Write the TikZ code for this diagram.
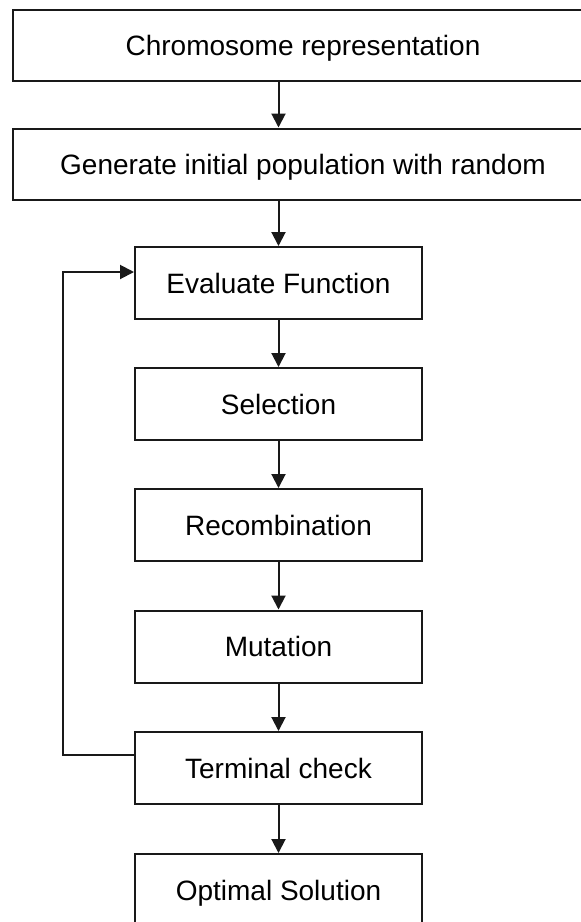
\documentclass[tikz,border=0pt]{standalone}
\usepackage{fontspec}
\setmainfont{Liberation Sans}
\usetikzlibrary{arrows.meta}
\begin{document}
\begin{tikzpicture}[x=1pt,y=-1pt,
  box/.style={draw=black!90, line width=2pt, rectangle, inner sep=0pt,
    font=\fontsize{28}{30}\selectfont, text height=20pt, text depth=0pt},
  wide/.style={box, minimum width=580pt, minimum height=71pt},
  narrow/.style={box, minimum width=287pt, minimum height=72pt},
  arr/.style={draw=black!90, line width=2pt, -{Triangle[length=14pt,width=14pt]}}]
\useasboundingbox (0,0) rectangle (581,922);
\clip (0,0) rectangle (581,922);
\fill[white] (0,0) rectangle (581,922);
\node[wide] (b1) at (303,45.5) {Chromosome representation};
\node[wide] (b2) at (303,164) {Generate initial population with random};
\node[narrow] (ev) at (278.5,283) {Evaluate Function};
\node[narrow] (se) at (278.5,404) {Selection};
\node[narrow] (re) at (278.5,525) {Recombination};
\node[narrow] (mu) at (278.5,646.5) {Mutation};
\node[narrow] (tc) at (278.5,768) {Terminal check};
\node[narrow] (os) at (278.5,890) {Optimal Solution};
\coordinate (lb) at (63,755);
\coordinate (lt) at (63,272);
\draw[arr] (b1.south -| ev.north) -- (b2.north -| ev.north);
\draw[arr] (b2.south -| ev.north) -- (ev.north);
\draw[arr] (ev) -- (se);
\draw[arr] (se) -- (re);
\draw[arr] (re) -- (mu);
\draw[arr] (mu) -- (tc);
\draw[arr] (tc) -- (os);
\draw[arr] (tc.west |- lb) -- (lb) -- (lt) -- (ev.west |- lt);
\end{tikzpicture}
\end{document}
